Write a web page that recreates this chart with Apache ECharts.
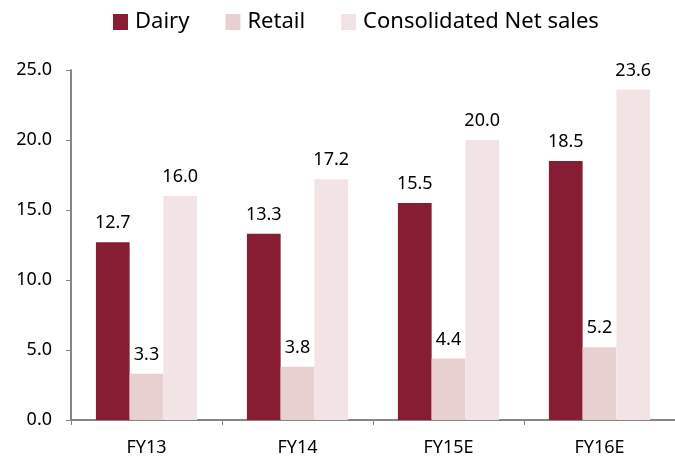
<!DOCTYPE html>
<html>
<head>
<meta charset="utf-8">
<script src="https://cdn.jsdelivr.net/npm/echarts@6/dist/echarts.min.js"></script>
<style>
  html, body { margin: 0; padding: 0; background: #fff; }
  #chart { width: 675px; height: 463px; }
</style>
</head>
<body>
<div id="chart"></div>
<script>
var categories = ['FY13', 'FY14', 'FY15E', 'FY16E'];
var dairy = [12.7, 13.3, 15.5, 18.5];
var retail = [3.3, 3.8, 4.4, 5.2];
var consolidated = [16.0, 17.2, 20.0, 23.6];

var chart = echarts.init(document.getElementById('chart'));
var font = 'Noto Sans';
var label = {
  show: true,
  position: 'top',
  distance: 10,
  color: '#000',
  fontFamily: font,
  fontSize: 18,
  formatter: function (p) { return p.value.toFixed(1); }
};

chart.setOption({
  animation: false,
  legend: {
    top: 6,
    left: 108,
    icon: 'rect',
    itemWidth: 15,
    itemHeight: 16,
    itemGap: 36,
    textStyle: { fontFamily: font, fontSize: 22, color: '#000', padding: [0, 0, 0, 2] },
    data: ['Dairy', 'Retail', 'Consolidated Net sales']
  },
  grid: { left: 71, right: 0, top: 70, bottom: 43 },
  xAxis: {
    type: 'category',
    data: categories,
    axisLine: { lineStyle: { color: '#868686', width: 2 } },
    axisTick: { show: true, length: 5, lineStyle: { color: '#868686' } },
    axisLabel: { color: '#000', fontFamily: font, fontSize: 18, margin: 19 }
  },
  yAxis: {
    type: 'value',
    min: 0,
    max: 25,
    interval: 5,
    axisLine: { show: true, lineStyle: { color: '#868686', width: 2 } },
    axisTick: { show: true, length: 5, lineStyle: { color: '#868686' } },
    splitLine: { show: false },
    axisLabel: {
      color: '#000', fontFamily: font, fontSize: 18, margin: 19,
      formatter: function (v) { return v.toFixed(1); }
    }
  },
  series: [
    { name: 'Dairy', type: 'bar', data: dairy, barGap: '0%', barCategoryGap: '33%',
      itemStyle: { color: '#861d33' }, label: label },
    { name: 'Retail', type: 'bar', data: retail,
      itemStyle: { color: '#e8cfd0' }, label: label },
    { name: 'Consolidated Net sales', type: 'bar', data: consolidated,
      itemStyle: { color: '#f2e4e5' }, label: label }
  ]
});
</script>
</body>
</html>
